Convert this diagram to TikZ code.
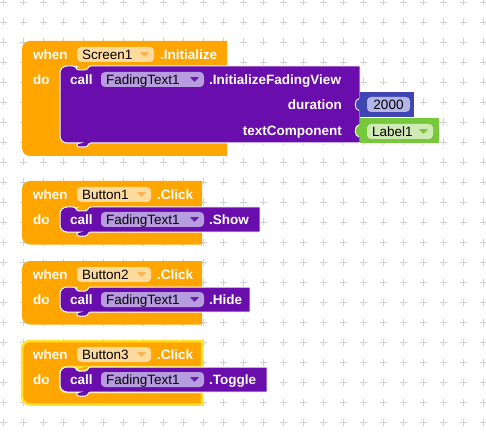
\documentclass[tikz,border=0pt]{standalone}
\usepackage{fontspec}
\setmainfont{Liberation Sans}
\definecolor{ctrl}{HTML}{FFA500}
\definecolor{meth}{HTML}{6A0DAD}
\definecolor{ofield}{HTML}{FFDB9E}
\definecolor{ochev}{HTML}{FBB24A}
\definecolor{pfield}{HTML}{B89CE0}
\definecolor{pchev}{HTML}{6A1BB0}
\definecolor{mathc}{HTML}{3F45B3}
\definecolor{mfield}{HTML}{B3B6E6}
\definecolor{compc}{HTML}{77C83C}
\definecolor{gfield}{HTML}{CFEBB3}
\definecolor{gchev}{HTML}{7CC646}
\definecolor{selc}{HTML}{FFE12E}
\definecolor{gridc}{HTML}{D2D2D2}
\tikzset{
  wtext/.style={anchor=west, inner sep=0pt, text=white, font=\fontsize{13.5}{14}\selectfont\bfseries, text height=9.5pt, text depth=0pt},
  ftext/.style={anchor=west, inner sep=0pt, text=black, font=\fontsize{13.5}{14}\selectfont, text height=9.5pt, text depth=0pt},
  gridmark/.style={draw=gridc, line width=0.9pt},
  hilite/.style={draw=white, line width=1pt},
}
% C-shaped event block: [opts]{T}{H}{P}{B}{Ro}
\newcommand\ctrlC[6][]{%
  \path[fill=ctrl,#1] (50,#2) [rounded corners=8] -- (22,#2) -- (22,#5) -- (50,#5) [sharp corners]
    -- (#6,#5) -- (#6,#4) -- (100,#4) [rounded corners=7] -- (60,#4) -- (60,#3) -- (73,#3) [sharp corners]
    .. controls (76,#3) and (76,#3+4) .. (79,#3+4) -- (85,#3+4) .. controls (88,#3+4) and (88,#3) .. (91,#3)
    -- (#6,#3) -- (#6,#2) -- cycle;}
% statement (method call) block: {H}{P}{R}
\newcommand\methblk[3]{%
  \path[fill=meth,hilite] (100,#1) -- (91,#1) .. controls (88,#1) and (88,#1+4) .. (85,#1+4) -- (79,#1+4)
    .. controls (76,#1+4) and (76,#1) .. (73,#1) [rounded corners=7] -- (60,#1) -- (60,#2) -- (73,#2) [sharp corners]
    .. controls (76,#2) and (76,#2+4) .. (79,#2+4) -- (85,#2+4) .. controls (88,#2+4) and (88,#2) .. (91,#2)
    -- (#3,#2) -- (#3,#1) -- cycle;}
% dropdown field: {x1}{y1}{x2}{y2}{fill}{chevron}{text}{name}
\newcommand\dropfield[8]{%
  \path[fill=#5, rounded corners=4] (#1,#2) rectangle (#3,#4);
  \node[ftext] (#8) at ({#1+5},{(#2+#4)/2}) {#7};
  \path[fill=#6, rounded corners=0.6] ({#3-14},{(#2+#4)/2-2.3}) -- ({#3-5},{(#2+#4)/2-2.3}) -- ({#3-9.5},{(#2+#4)/2+2.5}) -- cycle;}
% click block: [opts]{T}{button}{R}{method}{suffix}
\newcommand\clickblock[6][]{%
  \pgfmathsetmacro\cbH{#2+26}\pgfmathsetmacro\cbP{#2+51}\pgfmathsetmacro\cbB{#2+63.5}%
  \pgfmathsetmacro\cbHt{#2+13.5}\pgfmathsetmacro\cbRt{#2+39}%
  \pgfmathsetmacro\cbFa{#2+6}\pgfmathsetmacro\cbFb{#2+21}\pgfmathsetmacro\cbFc{#2+31}\pgfmathsetmacro\cbFd{#2+46}%
  \ctrlC[#1]{#2}{\cbH}{\cbP}{\cbB}{202}
  \methblk{\cbH}{\cbP}{#4}
  \node[wtext] (w#6) at (33,\cbHt) {when};
  \dropfield{77}{\cbFa}{151}{\cbFb}{ofield}{ochev}{#3}{b#6}
  \node[wtext] (e#6) at (157,\cbHt) {.Click};
  \node[wtext] (d#6) at (33,\cbRt) {do};
  \node[wtext] (c#6) at (70,\cbRt) {call};
  \dropfield{101}{\cbFc}{204}{\cbFd}{pfield}{pchev}{FadingText1}{f#6}
  \node[wtext] (m#6) at (209,\cbRt) {#5};}
\begin{document}
\begin{tikzpicture}[x=1pt,y=-1pt]
\useasboundingbox (0,0) rectangle (486,435);
\fill[white] (0,0) rectangle (486,435);
% grid
\foreach \i in {0,...,24}{\foreach \j in {0,...,21}{
  \draw[gridmark] (3+20*\i-3.5,2+20*\j) -- ++(7,0) (3+20*\i,2+20*\j-3.5) -- ++(0,7);}}
% ---- Screen1.Initialize
\ctrlC{41}{66}{143}{156}{227}
\methblk{66}{143}{360}
\node[wtext] (w1) at (33,54.5) {when};
\dropfield{77}{47}{154}{62}{ofield}{ochev}{Screen1}{s1}
\node[wtext] (e1) at (160,54.5) {.Initialize};
\node[wtext] (d1) at (33,79.5) {do};
\node[wtext] (c1) at (70,79.5) {call};
\dropfield{101}{72}{204}{87}{pfield}{pchev}{FadingText1}{f1}
\node[wtext] (m1) at (209,79.5) {.InitializeFadingView};
\node[wtext, anchor=east] (dur) at (342,105) {duration};
\node[wtext, anchor=east] (tc) at (342,131) {textComponent};
% number block
\path[fill=mathc] (360,92) rectangle (414,117);
\path[fill=mathc] (361,98) .. controls (353,98) and (353,111) .. (361,111) -- cycle;
\draw[white, line width=0.9pt] (359,98.5) .. controls (354,99) and (354,110) .. (359,110.5);
\path[fill=mfield, rounded corners=4] (367,97) rectangle (410,112);
\node[ftext, anchor=center] (num) at (388.5,104.5) {2000};
% component block
\path[fill=compc] (360,118) rectangle (439,143);
\path[fill=compc] (361,124.5) .. controls (353,124.5) and (353,137.5) .. (361,137.5) -- cycle;
\draw[white, line width=0.9pt] (359,125) .. controls (354,125.5) and (354,136.5) .. (359,137);
\dropfield{367}{124}{433}{139}{gfield}{gchev}{Label1}{lab}
% ---- click blocks
\clickblock{181}{Button1}{260}{.Show}{2}
\clickblock{261}{Button2}{250}{.Hide}{3}
\clickblock[draw=selc, line width=2.5pt]{341}{Button3}{267}{.Toggle}{4}
\end{tikzpicture}
\end{document}
